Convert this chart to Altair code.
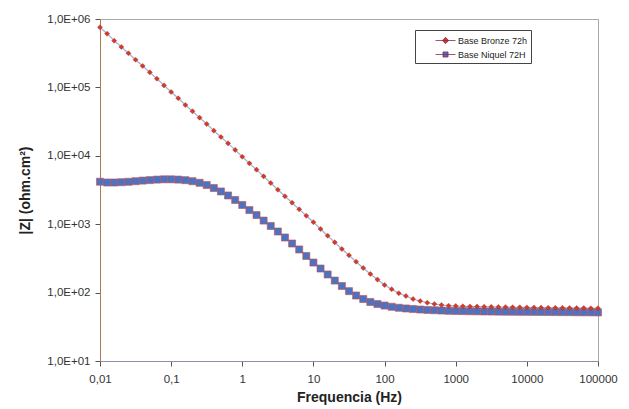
import altair as alt
import pandas as pd

# Frequencies (Hz), 10 points per decade from 0.01 to 100000
freq = [
    0.01, 0.01259, 0.01585, 0.01995, 0.02512, 0.03162, 0.03981, 0.05012, 0.0631, 0.07943,
    0.1, 0.1259, 0.1585, 0.1995, 0.2512, 0.3162, 0.3981, 0.5012, 0.631, 0.7943,
    1, 1.259, 1.585, 1.995, 2.512, 3.162, 3.981, 5.012, 6.31, 7.943,
    10, 12.59, 15.85, 19.95, 25.12, 31.62, 39.81, 50.12, 63.1, 79.43,
    100, 125.9, 158.5, 199.5, 251.2, 316.2, 398.1, 501.2, 631, 794.3,
    1000, 1259, 1585, 1995, 2512, 3162, 3981, 5012, 6310, 7943,
    10000, 12590, 15850, 19950, 25120, 31620, 39810, 50120, 63100, 79430,
    100000,
]

bronze = [
    757000, 610000, 482000, 390000, 315000, 254000, 206000, 166000, 134000, 107000,
    85700, 69300, 55300, 44800, 36100, 29200, 23300, 18800, 15200, 12200,
    9700, 7760, 6270, 5010, 4000, 3190, 2560, 2060, 1650, 1330,
    1070, 851, 679, 543, 434, 351, 283, 229, 187, 155,
    129, 112, 97.7, 89.1, 80.5, 75.3, 71.1, 68.1, 65.9, 64.3,
    63.7, 63.1, 62.7, 62.4, 62.1, 61.8, 61.6, 61.3, 61.1, 60.9,
    60.7, 60.5, 60.3, 60.1, 59.9, 59.7, 59.6, 59.4, 59.3, 59.1,
    59.0,
]

niquel = [
    4180, 4070, 4070, 4110, 4170, 4250, 4340, 4410, 4490, 4530,
    4530, 4490, 4400, 4250, 4030, 3740, 3380, 3010, 2630, 2260,
    1910, 1610, 1360, 1130, 942, 782, 639, 522, 427, 343,
    275, 225, 184, 150, 125, 105, 90.7, 80.6, 72.9, 68.1,
    64.7, 62.0, 60.0, 58.6, 57.6, 56.6, 55.7, 55.2, 54.7, 54.2,
    53.9, 53.6, 53.4, 53.2, 53.0, 52.9, 52.7, 52.6, 52.5, 52.4,
    52.3, 52.2, 52.1, 52.0, 51.9, 51.8, 51.7, 51.6, 51.5, 51.4,
    51.3,
]

series_names = ["Base Bronze 72h", "Base Niquel 72H"]
x_ticks = [0.01, 0.1, 1, 10, 100, 1000, 10000, 100000]
y_ticks = [10, 100, 1000, 10000, 100000, 1000000]

df = pd.DataFrame(
    {
        "f": freq * 2,
        "z": bronze + niquel,
        "s": [series_names[0]] * len(freq) + [series_names[1]] * len(freq),
    }
)

x_enc = alt.X(
    "f:Q",
    scale=alt.Scale(type="log", domain=[0.01, 100000], nice=False),
    axis=alt.Axis(
        values=x_ticks,
        labelExpr="datum.value == 0.01 ? '0,01' : (datum.value == 0.1 ? '0,1' : format(datum.value, 'd'))",
        title="Frequencia (Hz)",
        domainColor="#8a90b0",
        titlePadding=6,
        labelFlush=False,
        labelPadding=7,
    ),
)
y_enc = alt.Y(
    "z:Q",
    scale=alt.Scale(type="log", domain=[10, 1000000], nice=False),
    axis=alt.Axis(
        values=y_ticks,
        labelExpr="'1,0E+0' + round(log(datum.value) / LN10)",
        title="|Z| (ohm.cm²)",
        domainColor="#b07a50",
        titlePadding=14,
        labelFlush=False,
        labelPadding=5,
    ),
)

base = alt.Chart(df).encode(x=x_enc, y=y_enc)

bronze_line = base.mark_line(color="#9fb0d2", strokeWidth=1.2).transform_filter(
    alt.datum.s == series_names[0]
)
niquel_line = base.mark_line(color="#a04060", strokeWidth=1).transform_filter(
    alt.datum.s == series_names[1]
)
niquel_pts = base.mark_point(
    shape="square", filled=True, size=50, fill="#4d72c2", stroke="#c8504a",
    strokeWidth=0.6, opacity=1,
).transform_filter(alt.datum.s == series_names[1])
bronze_pts = base.mark_point(
    shape="diamond", filled=True, size=26, fill="#d23a2a", stroke="#b02a20",
    strokeWidth=0.4, opacity=1,
).transform_filter(alt.datum.s == series_names[0])

legend_paths = [
    "M1.43,0H4.29M2.86,-0.45L3.31,0L2.86,0.45L2.41,0Z",
    "M1.43,0H4.29M2.5,-0.36H3.22V0.36H2.5Z",
]
legend_layer = base.mark_point(
    filled=True, size=196, stroke="#8a2a4a", strokeWidth=0.8, opacity=1
).encode(
    shape=alt.Shape(
        "s:N",
        scale=alt.Scale(domain=series_names, range=legend_paths),
        legend=alt.Legend(
            title=None,
            orient="none",
            legendX=315,
            legendY=11,
            padding=3,
            strokeColor="#444",
            fillColor="white",
            labelFont="Liberation Sans",
            labelFontSize=9,
            labelColor="#222",
            symbolSize=196,
            rowPadding=1,
            labelOffset=25,
            symbolStrokeWidth=0.8,
            labelExpr="datum.label + '\u00a0\u00a0\u00a0\u00a0\u00a0\u00a0\u00a0\u00a0'",
        ),
    ),
    fill=alt.Fill(
        "s:N",
        scale=alt.Scale(domain=series_names, range=["#d23a2a", "#4d72c2"]),
        legend=alt.Legend(title=None, orient="none", legendX=315, legendY=11),
    ),
).transform_filter("false")

chart = (
    alt.layer(bronze_line, niquel_line, niquel_pts, bronze_pts, legend_layer)
    .properties(
        width=498,
        height=342,
        padding={"left": 92, "top": 11, "right": 23, "bottom": 50},
        autosize=alt.AutoSizeParams(type="none"),
        background="white",
    )
    .configure_view(stroke="#a8a8a8", strokeWidth=1)
    .configure_axis(
        labelFont="Liberation Sans",
        labelFontSize=11.5,
        labelColor="#333",
        tickColor="#555",
        tickSize=5,
        grid=False,
        titleFont="Liberation Sans",
        titleFontSize=14,
        titleFontWeight="bold",
        titleColor="#222",
    )
)

chart.save("out.html", embed_options={"renderer": "svg", "actions": False})
